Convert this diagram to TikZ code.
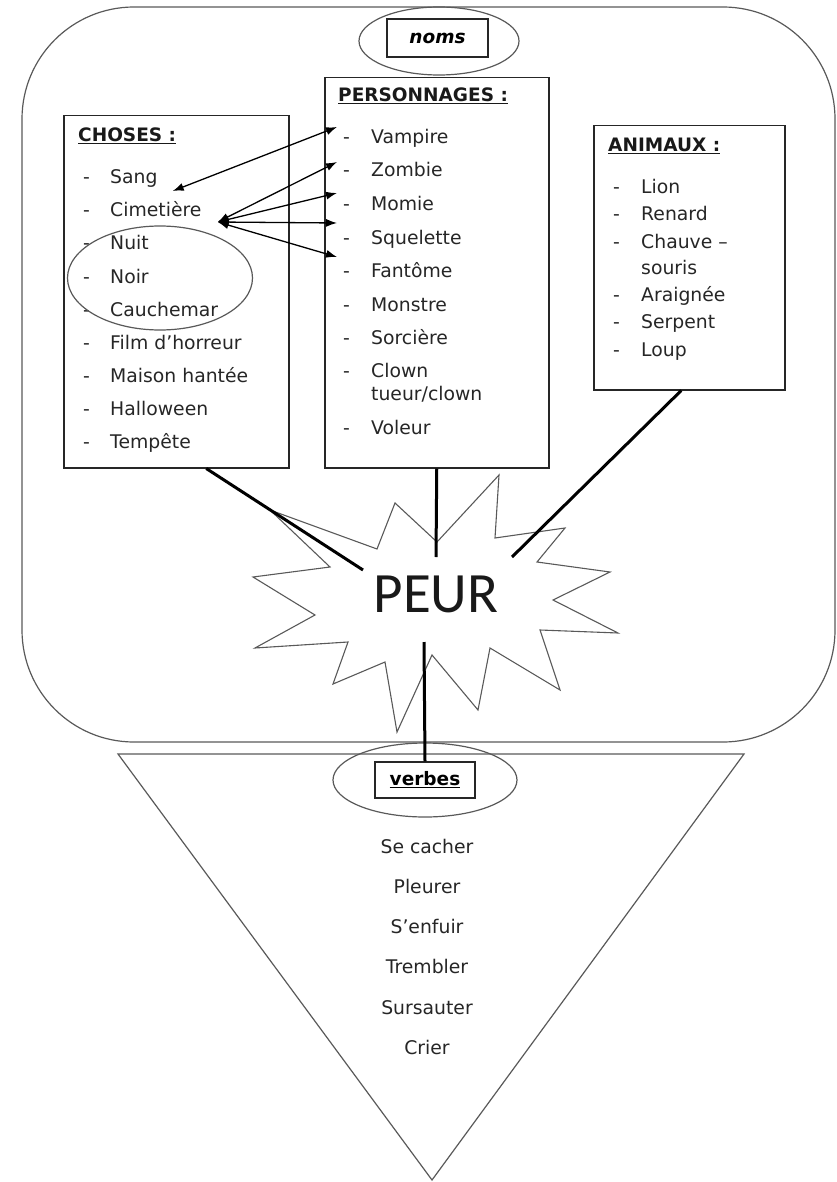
\documentclass[tikz,border=0pt]{standalone}
\usepackage{fontspec}
\setmainfont{DejaVu Sans}
\newfontfamily\peurfont{Carlito}
\usetikzlibrary{shapes.geometric,arrows.meta,calc}
\begin{document}
\begin{tikzpicture}[x=1pt,y=-1pt,
  shapeline/.style={draw=black!65, line width=1.2pt},
  boxline/.style={draw=black!85, line width=1.5pt, inner sep=0pt},
  conn/.style={draw=black, line width=3pt},
  arr/.style={draw=black, line width=1.3pt, {Latex[length=11pt,width=8pt]}-{Latex[length=11pt,width=8pt]}},
  item/.style={anchor=base west, inner sep=0pt, font=\fontsize{18.8}{22}\selectfont, text=black!85},
  ctr/.style={anchor=base, inner sep=0pt, font=\fontsize{18.8}{22}\selectfont, text=black!85},
  ttl/.style={anchor=base west, inner sep=0pt, font=\fontsize{18.5}{22}\selectfont\bfseries, text=black!90}]
\useasboundingbox (0,0) rectangle (837,1182);
% outer rounded frame and triangle
\draw[shapeline, rounded corners=112pt] (22,7) rectangle (835,742);
\draw[shapeline] (118,754) -- (744,754) -- (432,1180) -- cycle;
% noms
\node[shapeline, ellipse, minimum width=160, minimum height=68, inner sep=0pt] (nomsell) at (439,41) {};
\node[boxline, minimum width=101, minimum height=38, font=\fontsize{18.5}{22}\selectfont\bfseries\itshape] (noms) at (437.5,38) {noms};
% boxes
\node[boxline, anchor=north west, minimum width=225, minimum height=352] (choses) at (63,115) {};
\node[boxline, anchor=north west, minimum width=224, minimum height=390] (perso) at (324,77) {};
\node[boxline, anchor=north west, minimum width=191, minimum height=264] (animaux) at (593,125) {};
% CHOSES
\node[ttl] (tchoses) at (78,142) {\underline{CHOSES :}};
\foreach \y/\n/\t in {184/c1/Sang,217/c2/Cimetière,250/c3/Nuit,283/c4/Noir,316/c5/Cauchemar,349/c6/Film d’horreur,382/c7/Maison hantée,415/c8/Halloween,448/c9/Tempête}{
  \node[item] (d\n) at (83,\y) {-};
  \node[item] (\n) at (110,\y) {\t};
}
% PERSONNAGES
\node[ttl] (tperso) at (338,102) {\underline{PERSONNAGES :}};
\foreach \y/\n/\t in {144/p1/Vampire,177/p2/Zombie,211/p3/Momie,244/p4/Squelette,277/p5/Fantôme,311/p6/Monstre,344/p7/Sorcière,377/p8/Clown,434/p10/Voleur}{
  \node[item] (d\n) at (343,\y) {-};
  \node[item] (\n) at (371,\y) {\t};
}
\node[item] (p9) at (371,400) {tueur/clown};
% ANIMAUX
\node[ttl] (tanimaux) at (608,152) {\underline{ANIMAUX :}};
\foreach \y/\n/\t in {194/a1/Lion,221/a2/Renard,248/a3/Chauve –,301/a5/Araignée,328/a6/Serpent,356/a7/Loup}{
  \node[item] (d\n) at (613,\y) {-};
  \node[item] (\n) at (641,\y) {\t};
}
\node[item] (a4) at (641,274) {souris};
% ellipse around Nuit / Noir / Cauchemar
\node[shapeline, ellipse, minimum width=185, minimum height=104, inner sep=0pt] (nuitell) at (160,278) {};
% arrows
\coordinate (tV) at (337,127);
\coordinate (tZ) at (337,162);
\coordinate (tM) at (337,193);
\coordinate (tS) at (337,223);
\coordinate (tF) at (337,257);
\coordinate (src) at ([xshift=16pt,yshift=-5pt]c2.base east);
\draw[arr] ([xshift=15pt,yshift=-7pt]c1.base east) -- (tV);
\draw[arr] (src) -- (tZ);
\draw[arr] (src) -- (tM);
\draw[arr] (src) -- (tS);
\draw[arr] (src) -- (tF);
% star
\draw[shapeline, line width=1.1pt] (395,503) -- (437,542) -- (499,475) -- (495,538) -- (565,528) -- (537,562) -- (610,572) -- (553,600) -- (618,633) -- (540,630) -- (560,690) -- (490,648) -- (478,710) -- (432,655) -- (397,732) -- (385,662) -- (333,684) -- (348,642) -- (255,648) -- (315,615) -- (253,577) -- (330,567) -- (270,510) -- (377,549) -- cycle;
\node[inner sep=0pt, font=\peurfont\fontsize{57}{60}\selectfont, text=black!90] (peur) at (436,594) {PEUR};
% connectors
\coordinate (peurNW) at (363,570);
\coordinate (peurN) at (436,557);
\coordinate (peurNE) at (512,557);
\coordinate (peurS) at (424,642);
% verbes
\node[shapeline, ellipse, minimum width=184, minimum height=74, inner sep=0pt] (verbell) at (425,780) {};
\node[boxline, minimum width=100, minimum height=36, font=\fontsize{18.5}{22}\selectfont\bfseries] (verbes) at (425,780) {\underline{verbes}};
\draw[conn] ([xshift=30pt]choses.south) -- (peurNW);
\draw[conn] (perso.south) -- (peurN);
\draw[conn] ([xshift=-8pt]animaux.south) -- (peurNE);
\draw[conn] (peurS) -- (verbes.north);
% verbs
\foreach \y/\n/\t in {853/v1/Se cacher,893/v2/Pleurer,933/v3/S’enfuir,973/v4/Trembler,1014/v5/Sursauter,1054/v6/Crier}{
  \node[ctr] (\n) at (427,\y) {\t};
}
\end{tikzpicture}
\end{document}
